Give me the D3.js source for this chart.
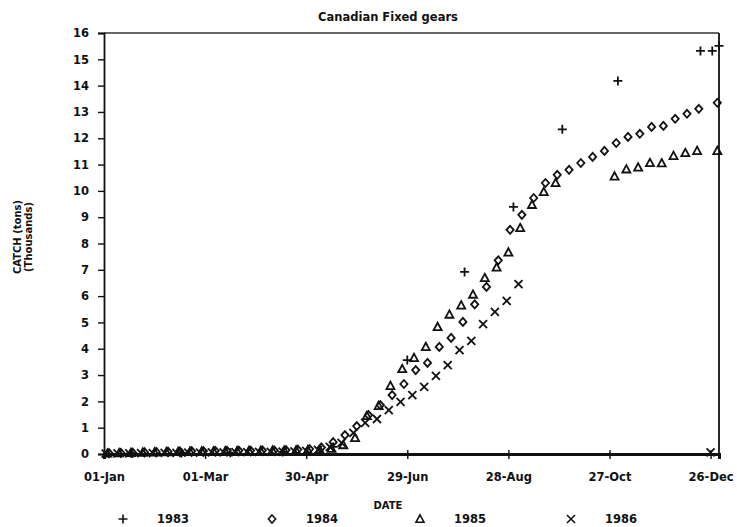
<!DOCTYPE html>
<html>
<head>
<meta charset="utf-8">
<script src="https://cdn.jsdelivr.net/npm/d3@7"></script>
<style>
  html, body { margin: 0; padding: 0; background: #fff; }
  svg text { font-family: "DejaVu Sans", sans-serif; font-weight: bold; fill: #111; }
</style>
</head>
<body>
<svg id="chart" width="737" height="527"></svg>
<script>
// Cumulative catch (thousands of tons) by day of year, Canadian fixed gears
const tickDays = [0, 60, 120, 180, 240, 300, 360];
const tickLabels = ["01-Jan", "01-Mar", "30-Apr", "29-Jun", "28-Aug", "27-Oct", "26-Dec"];
const yTicks = [0, 1, 2, 3, 4, 5, 6, 7, 8, 9, 10, 11, 12, 13, 14, 15, 16];

const days1983 = [16, 46, 75, 106, 136, 180, 214, 243, 272, 305, 354, 361, 365];
const catch1983 = [0.03, 0.04, 0.05, 0.08, 0.27, 3.57, 6.92, 9.39, 12.34, 14.18, 15.32, 15.32, 15.51];

const days1984 = [3, 10, 17, 24, 31, 38, 45, 52, 59, 66, 73, 80, 87, 94, 101, 108, 115, 122,
  129, 136, 143, 150, 157, 164, 171, 178, 185, 192, 199, 206, 213, 220, 227, 234, 241, 248,
  255, 262, 269, 276, 283, 290, 297, 304, 311, 318, 325, 332, 339, 346, 353, 364];
const catch1984 = [0.03, 0.04, 0.05, 0.07, 0.08, 0.09, 0.10, 0.11, 0.11, 0.12, 0.12, 0.13, 0.13, 0.14, 0.14, 0.15, 0.17, 0.19,
  0.25, 0.45, 0.72, 1.06, 1.48, 1.86, 2.24, 2.66, 3.19, 3.46, 4.07, 4.41, 5.02, 5.69, 6.35, 7.36, 8.52, 9.09,
  9.73, 10.30, 10.61, 10.80, 11.06, 11.29, 11.52, 11.82, 12.05, 12.17, 12.43, 12.47, 12.74, 12.93, 13.12, 13.35];

const days1985 = [2, 9, 16, 23, 30, 37, 44, 51, 58, 65, 72, 79, 86, 93, 100, 107, 114, 121, 128, 135,
  142, 149, 156, 163, 170, 177, 184, 191, 198, 205, 212, 219, 226, 233, 240, 247, 254, 261, 268,
  303, 310, 317, 324, 331, 338, 345, 352, 364];
const catch1985 = [0.02, 0.03, 0.04, 0.05, 0.06, 0.07, 0.08, 0.09, 0.10, 0.10, 0.11, 0.11, 0.12, 0.12, 0.13, 0.13, 0.14, 0.15, 0.16, 0.20,
  0.34, 0.61, 1.45, 1.83, 2.59, 3.23, 3.65, 4.07, 4.83, 5.30, 5.65, 6.06, 6.69, 7.09, 7.66, 8.59, 9.47, 9.96, 10.30,
  10.55, 10.82, 10.89, 11.06, 11.05, 11.33, 11.44, 11.52, 11.52];

const days1986 = [1, 8, 15, 22, 29, 36, 43, 50, 57, 64, 71, 78, 85, 92, 99, 106, 113, 120, 127,
  134, 141, 148, 155, 162, 169, 176, 183, 190, 197, 204, 211, 218, 225, 232, 239, 246, 360];
const catch1986 = [0.01, 0.02, 0.02, 0.03, 0.03, 0.04, 0.04, 0.05, 0.05, 0.06, 0.06, 0.07, 0.07, 0.08, 0.08, 0.09, 0.10, 0.12, 0.16,
  0.27, 0.42, 0.80, 1.18, 1.33, 1.67, 1.98, 2.24, 2.55, 2.97, 3.38, 3.95, 4.30, 4.94, 5.40, 5.82, 6.46, 0.06];

const seriesNames = ["1983", "1984", "1985", "1986"];
const seriesSymbols = ["plus", "diamond", "triangle", "cross"];

const series = [
  { name: seriesNames[0], symbol: seriesSymbols[0], days: days1983, values: catch1983 },
  { name: seriesNames[1], symbol: seriesSymbols[1], days: days1984, values: catch1984 },
  { name: seriesNames[2], symbol: seriesSymbols[2], days: days1985, values: catch1985 },
  { name: seriesNames[3], symbol: seriesSymbols[3], days: days1986, values: catch1986 }
];

const svg = d3.select("#chart");
const plotLeft = 104, plotRight = 719, plotTop = 33, plotBottom = 454;

const x = d3.scaleLinear().domain([0, 365]).range([plotLeft, plotRight]);
const y = d3.scaleLinear().domain([0, 16]).range([plotBottom, plotTop]);

// Open marker outlines, centred on the origin
function markerPath(kind) {
  switch (kind) {
    case "plus": return "M-4.5,0H4.5M0,-4.5V4.5";
    case "cross": return "M-4,-4L4,4M-4,4L4,-4";
    case "diamond": return "M0,-4L3.6,0L0,4L-3.6,0Z";
    case "triangle": return "M0,-4.2L4,3.2L-4,3.2Z";
  }
}

// Frame
svg.append("line").attr("x1", plotLeft).attr("x2", plotRight).attr("y1", plotTop).attr("y2", plotTop)
  .attr("stroke", "#333").attr("stroke-width", 1.3);
svg.append("line").attr("x1", plotRight).attr("x2", plotRight).attr("y1", plotTop).attr("y2", plotBottom)
  .attr("stroke", "#111").attr("stroke-width", 1.8);

// Y axis
const yAxis = svg.append("g").attr("transform", `translate(${plotLeft},0)`)
  .call(d3.axisLeft(y).tickValues(yTicks).tickSize(6).tickPadding(9).tickFormat(d3.format("d")));
yAxis.select(".domain").attr("stroke", "#111").attr("stroke-width", 1.8);
yAxis.selectAll(".tick line").attr("stroke", "#111").attr("stroke-width", 1.4);
yAxis.selectAll(".tick text").style("font-size", "11.5px");

// X axis
const xAxis = svg.append("g").attr("transform", `translate(0,${plotBottom})`)
  .call(d3.axisBottom(x).tickValues(tickDays).tickSize(5).tickPadding(14)
    .tickFormat((d, i) => tickLabels[i]));
xAxis.select(".domain").attr("stroke", "#111").attr("stroke-width", 3);
xAxis.selectAll(".tick line").attr("stroke", "#111").attr("stroke-width", 1.4).attr("y1", -4);
xAxis.selectAll(".tick text").style("font-size", "11.5px");

// Markers
const g = svg.append("g");
series.forEach(s => {
  g.selectAll(null)
    .data(s.days.map((d, i) => ({ day: d, value: s.values[i] })))
    .join("path")
    .attr("transform", d => `translate(${x(d.day)},${y(d.value)})`)
    .attr("d", markerPath(s.symbol))
    .attr("fill", "none")
    .attr("stroke", "#111")
    .attr("stroke-width", 1.8);
});

// Titles
svg.append("text").attr("x", 388).attr("y", 21).attr("text-anchor", "middle")
  .style("font-size", "11.5px").text("Canadian Fixed gears");
svg.append("text").attr("x", 388).attr("y", 509).attr("text-anchor", "middle")
  .style("font-size", "10px").text("DATE");
const yl = svg.append("text").attr("transform", "translate(21,237) rotate(-90)")
  .attr("text-anchor", "middle").style("font-size", "10px");
yl.append("tspan").attr("x", 0).attr("dy", 0).text("CATCH (tons)");
yl.append("tspan").attr("x", 0).attr("dy", 11).text("(Thousands)");

// Legend
const legendX = [123, 272, 420, 571];
const legend = svg.append("g");
series.forEach((s, i) => {
  legend.append("path")
    .attr("transform", `translate(${legendX[i]},519)`)
    .attr("d", markerPath(s.symbol))
    .attr("fill", "none").attr("stroke", "#111").attr("stroke-width", 1.6);
  legend.append("text").attr("x", legendX[i] + 34).attr("y", 523)
    .style("font-size", "11.5px").text(s.name);
});
</script>
</body>
</html>
